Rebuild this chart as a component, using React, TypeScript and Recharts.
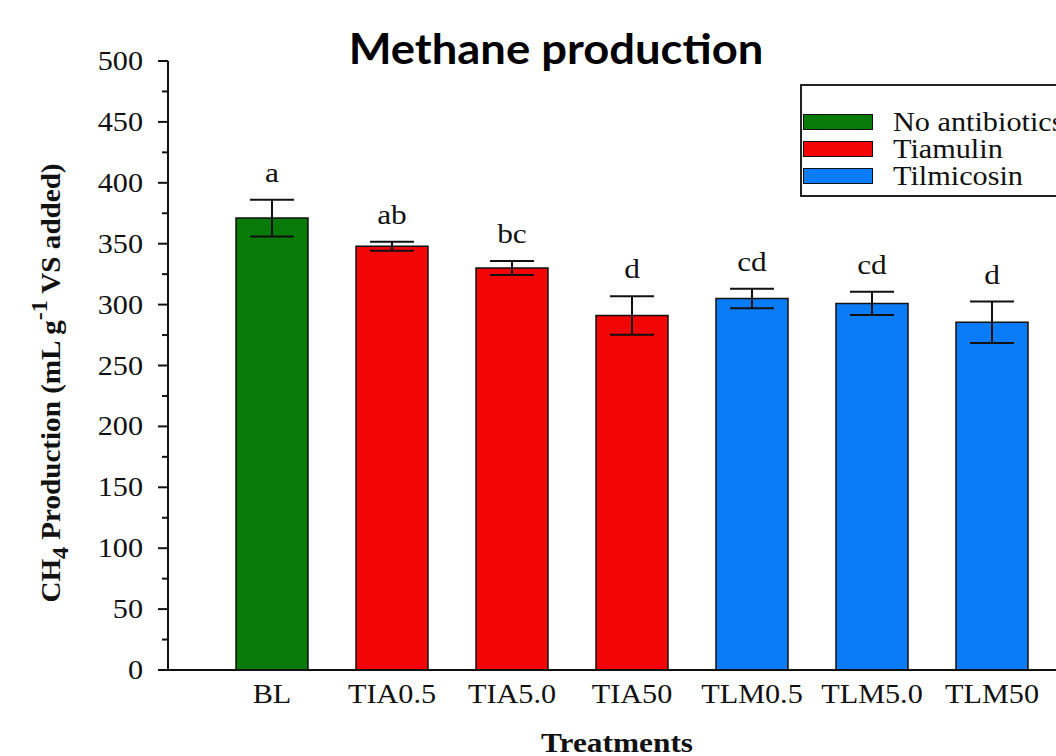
import React from 'react';
import { BarChart, Bar, XAxis, YAxis, ErrorBar, Cell, LabelList, Legend } from 'recharts';

// Treatments on the x axis
const categories = ['BL', 'TIA0.5', 'TIA5.0', 'TIA50', 'TLM0.5', 'TLM5.0', 'TLM50'];
// Mean CH4 production (mL g-1 VS added) and standard deviation
const means = [371, 348, 330, 291, 305, 301, 285.5];
const sds = [15, 3.7, 5.8, 15.8, 8, 9.5, 17];
// Significance letters drawn above each bar
const letters = ['a', 'ab', 'bc', 'd', 'cd', 'cd', 'd'];
// Antibiotic group of every treatment
const groups = ['No antibiotics', 'Tiamulin', 'Tiamulin', 'Tiamulin', 'Tilmicosin', 'Tilmicosin', 'Tilmicosin'];

const groupNames = ['No antibiotics', 'Tiamulin', 'Tilmicosin'];
const groupColors = ['#077a07', '#f40505', '#0b7cf7'];

const yTicks = [0, 25, 50, 75, 100, 125, 150, 175, 200, 225, 250, 275, 300, 325, 350, 375, 400, 425, 450, 475, 500];

const data = categories.map((name, i) => ({
  name,
  mean: means[i],
  sd: sds[i],
  letter: letters[i],
  color: groupColors[groupNames.indexOf(groups[i])],
}));

const SERIF = '"Liberation Serif", "Times New Roman", serif';
// the serif type in this figure runs a little wide
const STRETCH = 1.12;

const YTick = ({ x, y, payload }: any) => {
  const major = payload.value % 50 === 0;
  return (
    <g>
      <line x1={x - (major ? 10 : 6)} x2={x} y1={y} y2={y} stroke="#111" strokeWidth={2} />
      {major && (
        <text
          transform={`translate(${x - 25},${y + 9}) scale(${STRETCH},1)`}
          textAnchor="end"
          fontFamily={SERIF}
          fontSize={27}
          fill="#111"
        >
          {payload.value}
        </text>
      )}
    </g>
  );
};

const XTick = ({ x, y, payload }: any) => (
  <text
    transform={`translate(${x},${y + 33}) scale(${STRETCH},1)`}
    textAnchor="middle"
    fontFamily={SERIF}
    fontSize={27}
    fill="#111"
  >
    {payload.value}
  </text>
);

const YTitle = () => (
  <text
    transform="translate(60 383) rotate(-90) scale(1.04,1)"
    textAnchor="middle"
    fontFamily={SERIF}
    fontWeight="bold"
    fontSize={28}
    fill="#111"
  >
    CH
    <tspan dy={8} fontSize={23}>4</tspan>
    <tspan dy={-8}>{'  Production (mL g'}</tspan>
    <tspan dy={-13} fontSize={23}>-1</tspan>
    <tspan dy={13}> VS added)</tspan>
  </text>
);

const XTitle = ({ viewBox }: any) => (
  <text
    transform={`translate(${viewBox.x + viewBox.width / 2 + 5},752) scale(${STRETCH},1)`}
    textAnchor="middle"
    fontFamily={SERIF}
    fontWeight="bold"
    fontSize={28}
    fill="#111"
  >
    Treatments
  </text>
);

// letter sits a fixed gap above the top of the error bar
const LetterLabel = (props: any) => {
  const { x, y, width, height, index } = props;
  const d = data[index];
  const pxPerUnit = height / d.mean;
  const errTop = y - d.sd * pxPerUnit;
  return (
    <text
      transform={`translate(${x + width / 2},${errTop - 18}) scale(${STRETCH},1)`}
      textAnchor="middle"
      fontFamily={SERIF}
      fontSize={28}
      fill="#111"
    >
      {d.letter}
    </text>
  );
};

const GroupLegend = () => (
  <div
    style={{
      border: '2px solid #222',
      width: 300,
      height: 113,
      boxSizing: 'border-box',
      paddingTop: 22,
      paddingLeft: 1,
      background: '#fff',
    }}
  >
    {groupNames.map((g, i) => (
      <div key={g} style={{ display: 'flex', alignItems: 'center', height: 27 }}>
        <div
          style={{
            width: 70,
            height: 16,
            boxSizing: 'border-box',
            border: '1.5px solid #111',
            background: groupColors[i],
            marginRight: 20,
            flexShrink: 0,
          }}
        />
        <span
          style={{
            fontFamily: SERIF,
            fontSize: 27,
            lineHeight: '26px',
            color: '#111',
            display: 'inline-block',
            whiteSpace: 'nowrap',
            transform: `scaleX(${STRETCH})`,
            transformOrigin: 'left center',
          }}
        >
          {g}
        </span>
      </div>
    ))}
  </div>
);

export default function App() {
  return (
    <div
      style={{
        position: 'absolute',
        left: 0,
        top: 0,
        width: 1056,
        height: 756,
        overflow: 'hidden',
        background: '#fff',
      }}
    >
      <div
        style={{
          position: 'absolute',
          left: 0,
          width: 1112,
          top: 23,
          textAlign: 'center',
          fontFamily: 'Lato, "Open Sans", sans-serif',
          fontWeight: 'bold',
          fontSize: 42,
          lineHeight: '50px',
          color: '#000',
          transform: 'scaleX(1.08)',
          transformOrigin: '556px 0',
          zIndex: 2,
        }}
      >
        Methane production
      </div>
      <BarChart width={1056} height={756} data={data} margin={{ top: 61, right: 0, bottom: 0, left: 0 }}>
        <XAxis
          dataKey="name"
          height={86}
          padding={{ left: 44, right: 4 }}
          interval={0}
          tickLine={false}
          tickSize={0}
          tickMargin={0}
          tick={<XTick />}
          axisLine={{ stroke: '#111', strokeWidth: 2 }}
          label={<XTitle />}
        />
        <YAxis
          width={168}
          domain={[0, 500]}
          ticks={yTicks}
          interval={0}
          tickLine={false}
          tickSize={0}
          tickMargin={0}
          tick={<YTick />}
          axisLine={{ stroke: '#111', strokeWidth: 2 }}
          label={<YTitle />}
        />
        <Legend
          layout="vertical"
          align="center"
          verticalAlign="middle"
          content={<GroupLegend />}
          wrapperStyle={{ position: 'absolute', left: 800, top: 84, width: 300 }}
        />
        <Bar dataKey="mean" barSize={72} stroke="#111" strokeWidth={1.5} isAnimationActive={false}>
          {data.map((d, i) => (
            <Cell key={`cell-${i}`} fill={d.color} />
          ))}
          <ErrorBar dataKey="sd" width={22} stroke="#111" strokeWidth={2} />
          <LabelList dataKey="letter" content={<LetterLabel />} />
        </Bar>
      </BarChart>
    </div>
  );
}
